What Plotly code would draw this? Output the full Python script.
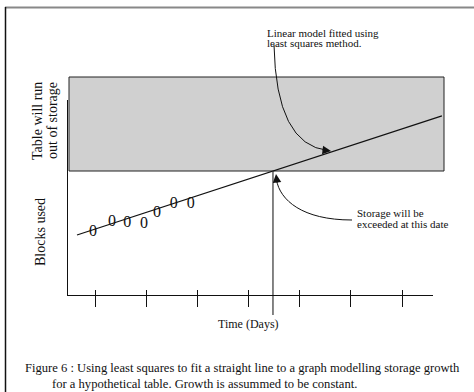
import plotly.graph_objects as go

# ---------------- data ----------------
obs_days = [0.96, 1.33, 1.63, 1.96, 2.21, 2.54, 2.87]
obs_blocks = [50.8, 58.9, 58.1, 57.0, 66.1, 73.4, 73.4]
fit_days = [0.648, 7.78]
fit_blocks = [48.4, 144.4]
storage_limit = 100.0
storage_top = 175.8
limit_day = 4.478
tick_days = [1, 2, 3, 4, 5, 6, 7]
x_axis_label = "Time (Days)"
y_label_top = ["Table will run", "out of storage"]
y_label_bottom = "Blocks used"
note_fit = ["Linear model fitted using", "least squares method."]
note_limit = ["Storage will be", "exceeded at this date"]
caption = ["Figure 6 : Using least squares to fit a straight line to a graph modelling storage growth",
           "for a hypothetical table. Growth is assummed to be constant."]

W, H = 474, 392
PX_PER_DAY = 51.17
PX_PER_BLOCK = 1.24
X_DAY1_PX = 95
Y_ZERO_PX = 295


def d(px):
    return 1 + (px - X_DAY1_PX) / PX_PER_DAY


def b(py):
    return (Y_ZERO_PX - py) / PX_PER_BLOCK


def pxp(px):
    return px / W


def pyp(py):
    return 1 - py / H


FONT = "Liberation Serif, Times New Roman, serif"
INK = "#111111"

fig = go.Figure()

# fitted line
fig.add_trace(go.Scatter(x=fit_days, y=fit_blocks, mode="lines",
                         line=dict(color=INK, width=1.2), hoverinfo="skip"))
# observations
fig.add_trace(go.Scatter(x=obs_days, y=obs_blocks, mode="text", text=["0"] * len(obs_days),
                         textposition="middle center",
                         textfont=dict(family=FONT, size=16, color=INK), hoverinfo="skip"))
# vertical line at the date storage is exceeded
fig.add_trace(go.Scatter(x=[limit_day, limit_day], y=[storage_limit, b(315)], mode="lines",
                         line=dict(color="#333333", width=1.2), hoverinfo="skip"))

# axis subplot traces (invisible) so the axes render
fig.add_trace(go.Scatter(x=[None], y=[None], xaxis="x2", yaxis="y2", hoverinfo="skip"))
fig.add_trace(go.Scatter(x=[None], y=[None], xaxis="x3", yaxis="y2", hoverinfo="skip"))

# shaded region beyond storage
fig.add_shape(type="rect", xref="x", yref="y", x0=d(69), x1=d(444), y0=storage_limit, y1=storage_top,
              fillcolor="#d0d0d0", line=dict(color="#222222", width=1), layer="below")

# curved arrows (paths in data coordinates)
def P(px, py):
    return f"{d(px)},{b(py)}"

fig.add_shape(type="path", xref="x", yref="y",
              path=f"M {P(274,45)} Q {P(276,145)} {P(328,150.5)}",
              line=dict(color=INK, width=1))
fig.add_shape(type="path", xref="x", yref="y",
              path=f"M {P(352,220)} C {P(302,220)} {P(280,200)} {P(276.5,180)}",
              line=dict(color=INK, width=1))

fig.add_annotation(x=d(331), y=b(151), xref="x", yref="y", text="", showarrow=True,
                   ax=-10, ay=-1.2, arrowhead=2, arrowsize=1.7, arrowwidth=1, arrowcolor=INK, standoff=0)
fig.add_annotation(x=d(276), y=b(174), xref="x", yref="y", text="", showarrow=True,
                   ax=1.2, ay=10, arrowhead=2, arrowsize=1.7, arrowwidth=1, arrowcolor=INK, standoff=0)

# outer frame (top and left edges visible)
fig.add_shape(type="line", xref="paper", yref="paper", x0=pxp(5), x1=pxp(474), y0=pyp(7.5), y1=pyp(7.5),
              line=dict(color="#888888", width=2))
fig.add_shape(type="line", xref="paper", yref="paper", x0=pxp(5.5), x1=pxp(5.5), y0=pyp(7), y1=pyp(392),
              line=dict(color=INK, width=1.5))


def text(s, x, y, size, xanchor="left", angle=0):
    fig.add_annotation(text=s, x=pxp(x), y=pyp(y), xref="paper", yref="paper", showarrow=False,
                       xanchor=xanchor, yanchor="middle", textangle=angle,
                       font=dict(family=FONT, size=size, color=INK))


text(note_fit[0], 265, 33, 11)
text(note_fit[1], 265, 43.5, 11)
text(note_limit[0], 355, 213.5, 11)
text(note_limit[1], 355, 224, 11)
text(x_axis_label, 248.5, 324, 12, xanchor="center")
text(y_label_top[0], 37, 121, 14, xanchor="center", angle=-90)
text(y_label_top[1], 52, 121, 14, xanchor="center", angle=-90)
text(y_label_bottom, 40, 232, 14, xanchor="center", angle=-90)
text(caption[0], 23, 368, 12.6)
text(caption[1], 50, 384, 12.6)

hidden = dict(visible=False, showgrid=False, zeroline=False, fixedrange=True)
fig.update_layout(
    width=W, height=H, margin=dict(l=0, r=0, t=0, b=0),
    paper_bgcolor="white", plot_bgcolor="rgba(0,0,0,0)", showlegend=False,
    xaxis=dict(domain=[0, 1], range=[d(0), d(W)], **hidden),
    yaxis=dict(domain=[0, 1], range=[b(H), b(0)], **hidden),
    xaxis2=dict(domain=[pxp(68), pxp(433)], range=[d(68), d(433)], anchor="y2",
                showline=True, linecolor=INK, linewidth=1, showgrid=False, zeroline=False,
                ticks="outside", ticklen=11, tickwidth=1, tickcolor=INK,
                tickvals=tick_days, showticklabels=False, fixedrange=True),
    xaxis3=dict(overlaying="x2", range=[d(68), d(433)], anchor="y2", showline=False,
                showgrid=False, zeroline=False, ticks="inside", ticklen=5, tickwidth=1,
                tickcolor=INK, tickvals=tick_days, showticklabels=False, fixedrange=True),
    yaxis2=dict(domain=[pyp(295), pyp(100)], range=[0, b(100)], anchor="x2",
                showline=True, linecolor=INK, linewidth=1, showgrid=False, zeroline=False,
                ticks="", showticklabels=False, fixedrange=True),
)

fig.write_html("out.html", config={"displayModeBar": False},
               post_script="document.body.style.margin='0';document.body.style.overflow='hidden';")
